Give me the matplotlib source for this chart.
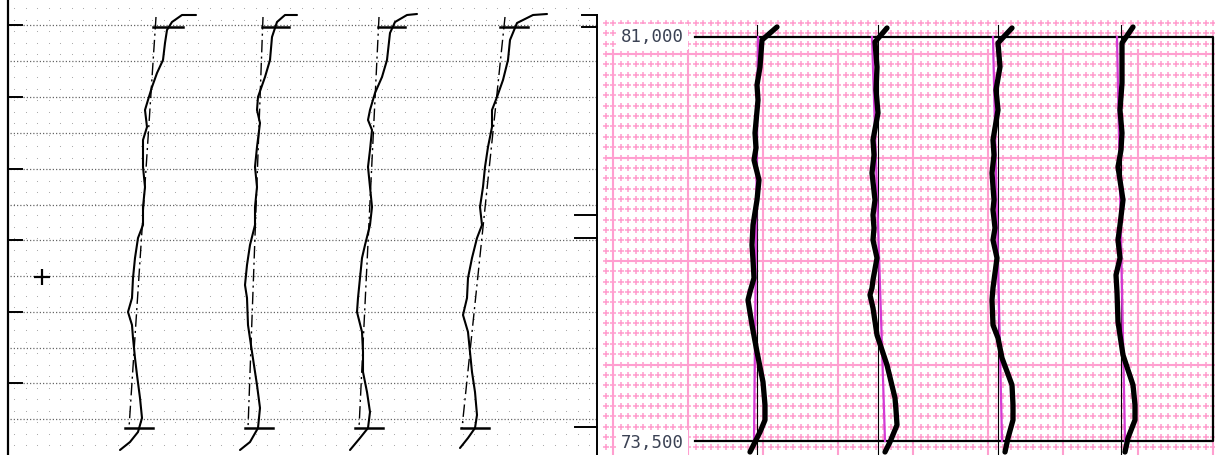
import numpy as np
import matplotlib
matplotlib.use("Agg")
import matplotlib.pyplot as plt

# ---------------- data (pixel-space units) ----------------
# Left panel: four scanned profiles (solid), listed bottom -> top
left_profiles_x = [
    [120, 130, 138, 142, 140, 137, 135, 133, 132, 128, 132, 133, 135, 138, 143, 143, 145, 143, 143, 147, 145, 148, 152, 157, 163, 165, 167, 172, 182, 196],
    [240, 250, 258, 260, 257, 252, 248, 247, 245, 247, 250, 255, 255, 257, 255, 257, 260, 257, 258, 265, 270, 272, 277, 285, 297],
    [350, 360, 368, 370, 367, 363, 363, 362, 357, 358, 360, 362, 365, 370, 372, 370, 368, 370, 372, 368, 370, 375, 382, 387, 390, 395, 407, 417],
    [460, 468, 475, 477, 475, 472, 470, 468, 463, 467, 468, 472, 477, 482, 480, 483, 485, 488, 492, 492, 497, 503, 508, 510, 517, 533, 547],
]
left_profiles_y = [
    [450, 442, 432, 418, 398, 375, 358, 338, 325, 312, 298, 278, 258, 238, 225, 207, 187, 167, 140, 127, 110, 100, 87, 73, 60, 43, 30, 22, 15, 15],
    [450, 442, 428, 408, 385, 352, 325, 298, 285, 265, 245, 225, 207, 187, 167, 147, 123, 110, 97, 77, 60, 37, 22, 15, 15],
    [450, 438, 428, 412, 392, 372, 352, 332, 312, 298, 278, 258, 245, 225, 207, 187, 167, 150, 130, 120, 110, 93, 77, 60, 33, 22, 15, 14],
    [448, 438, 428, 415, 392, 372, 352, 332, 315, 298, 278, 258, 238, 225, 207, 187, 167, 147, 127, 110, 97, 80, 60, 40, 23, 15, 14],
]
# dash-dot reference lines (top x, bottom x)
left_ref_top_x = [156, 263, 379, 505]
left_ref_bot_x = [129, 248, 359, 462]
left_ref_top_y, left_ref_bot_y = 17, 428
# horizontal bars at top / bottom of each profile (x start, x end)
left_top_bars = [(153, 183), (262, 289), (378, 405), (500, 528)]
left_bot_bars = [(125, 153), (245, 273), (355, 383), (461, 489)]
bar_top_y, bar_bot_y = 27, 428

left_grid_y = [25, 61, 97, 133, 169, 205, 240, 276, 312, 348, 383, 419]
left_ticks_y = [25, 97, 169, 240, 312, 383]
right_axis_ticks = [(15, 582), (27, 582), (215, 575), (238, 575), (427, 575)]

right_profiles_x = [
    [750, 755, 760, 765, 765, 763, 757, 752, 748, 750, 754, 753, 752, 753, 757, 759, 754, 756, 755, 758, 757, 760, 762, 777],
    [885, 890, 897, 896, 895, 887, 877, 873, 870, 872, 873, 877, 873, 874, 873, 875, 872, 874, 873, 878, 876, 877, 875, 887],
    [1005, 1008, 1013, 1013, 1012, 1002, 998, 993, 992, 993, 997, 993, 995, 993, 994, 992, 994, 993, 998, 996, 1000, 998, 1012],
    [1125, 1128, 1135, 1135, 1133, 1123, 1118, 1117, 1116, 1120, 1118, 1120, 1123, 1118, 1121, 1122, 1120, 1122, 1122, 1133],
]
right_profiles_y = [
    [452, 442, 432, 420, 405, 382, 352, 325, 300, 292, 278, 260, 245, 225, 200, 180, 160, 148, 133, 100, 85, 67, 40, 27],
    [452, 442, 425, 410, 398, 365, 335, 308, 295, 288, 280, 258, 240, 228, 215, 200, 173, 155, 140, 113, 90, 67, 42, 28],
    [452, 438, 420, 405, 385, 358, 338, 325, 300, 288, 258, 240, 228, 210, 200, 173, 155, 140, 110, 90, 67, 43, 28],
    [452, 438, 420, 405, 385, 355, 322, 292, 275, 258, 240, 225, 200, 167, 150, 133, 110, 83, 43, 27],
]
magenta_top_x = [758, 872, 993, 1117]
magenta_bot_x = [754, 885, 1002, 1125]
black_vlines_x = [757, 878, 998, 1121]
elev_labels = ["81,000", "73,500"]
elev_label_y = [37, 443]

# ---------------- figure ----------------
W, H = 1215, 455
fig = plt.figure(figsize=(W / 100, H / 100), dpi=100)
ax = fig.add_axes([0, 0, 1, 1])
ax.set_xlim(0, W)
ax.set_ylim(H, 0)
ax.axis("off")

# ---- left panel background: faint dot grid
gx = np.arange(14, 596, 11.5)
gy = np.arange(8, 452, 11.5)
GX, GY = np.meshgrid(gx, gy)
ax.scatter(GX.ravel(), GY.ravel(), s=0.6, color="#a0a0a0", linewidths=0, zorder=1)
for y in left_grid_y:
    ax.plot([10, 596], [y, y], color="#666666", lw=0.9, ls=(0, (1, 1.6)), zorder=2)

# left axis
ax.plot([8, 8], [0, H], color="black", lw=1.6, zorder=3)
for y in left_ticks_y:
    ax.plot([8, 22], [y, y], color="black", lw=1.4, zorder=3)
# right axis of left panel
ax.plot([597, 597], [15, H], color="black", lw=1.4, zorder=3)
for y, x0 in right_axis_ticks:
    ax.plot([x0, 597], [y, y], color="black", lw=1.4, zorder=3)
# plus marker
ax.plot([42], [277], marker="+", ms=11, mew=1.6, color="black", zorder=3)

for px, py in zip(left_profiles_x, left_profiles_y):
    ax.plot(px, py, color="black", lw=1.5, solid_capstyle="round",
            solid_joinstyle="round", zorder=5)
for xt, xb in zip(left_ref_top_x, left_ref_bot_x):
    ax.plot([xt, xb], [left_ref_top_y, left_ref_bot_y], color="black", lw=1.0,
            ls=(0, (9, 3, 1.5, 3)), zorder=4)
for (a, b) in left_top_bars:
    ax.plot([a, b], [bar_top_y, bar_top_y], color="black", lw=1.8, zorder=5)
for (a, b) in left_bot_bars:
    ax.plot([a, b], [bar_bot_y, bar_bot_y], color="black", lw=1.8, zorder=5)

# ---- right panel: pink graph paper
pink = "#ff9ccd"
cx = np.arange(613 - 7.5, W + 2, 7.5)
cy = np.arange(54 - 3 * 10.35, H + 2, 10.35)
CX, CY = np.meshgrid(cx, cy)
ax.scatter(CX.ravel(), CY.ravel(), marker="+", s=13, linewidths=1.1, color=pink, zorder=1)
for x in np.arange(613, W + 2, 75):
    ax.plot([x, x], [50, H], color="#ff9fd0", lw=1.5, zorder=2)
for y in np.arange(54, H, 103.5):
    ax.plot([607, W], [y, y], color="#ff9fd0", lw=1.5, zorder=2)

# black frame
ax.plot([695, 1213, 1213, 695], [37, 37, 441, 441], color="black", lw=1.6, zorder=4)
for x in black_vlines_x:
    ax.plot([x, x], [25, H], color="black", lw=0.8, zorder=4)
for xt, xb in zip(magenta_top_x, magenta_bot_x):
    ax.plot([xt, xb], [37, 441], color="#d43ad4", lw=1.6, zorder=5)
for px, py in zip(right_profiles_x, right_profiles_y):
    ax.plot(px, py, color="black", lw=3.8, solid_capstyle="round",
            solid_joinstyle="round", zorder=6)

for lab, y in zip(elev_labels, elev_label_y):
    ax.text(652, y, lab, ha="center", va="center", fontsize=12.5,
            family="DejaVu Sans Mono", color="#3b4254", zorder=7,
            bbox=dict(boxstyle="square,pad=0.25", fc="white", ec="none"))

# white strip at top of right panel
ax.add_patch(plt.Rectangle((603, 0), W - 603, 19, color="white", zorder=3))

fig.savefig("out.png", dpi=100)
